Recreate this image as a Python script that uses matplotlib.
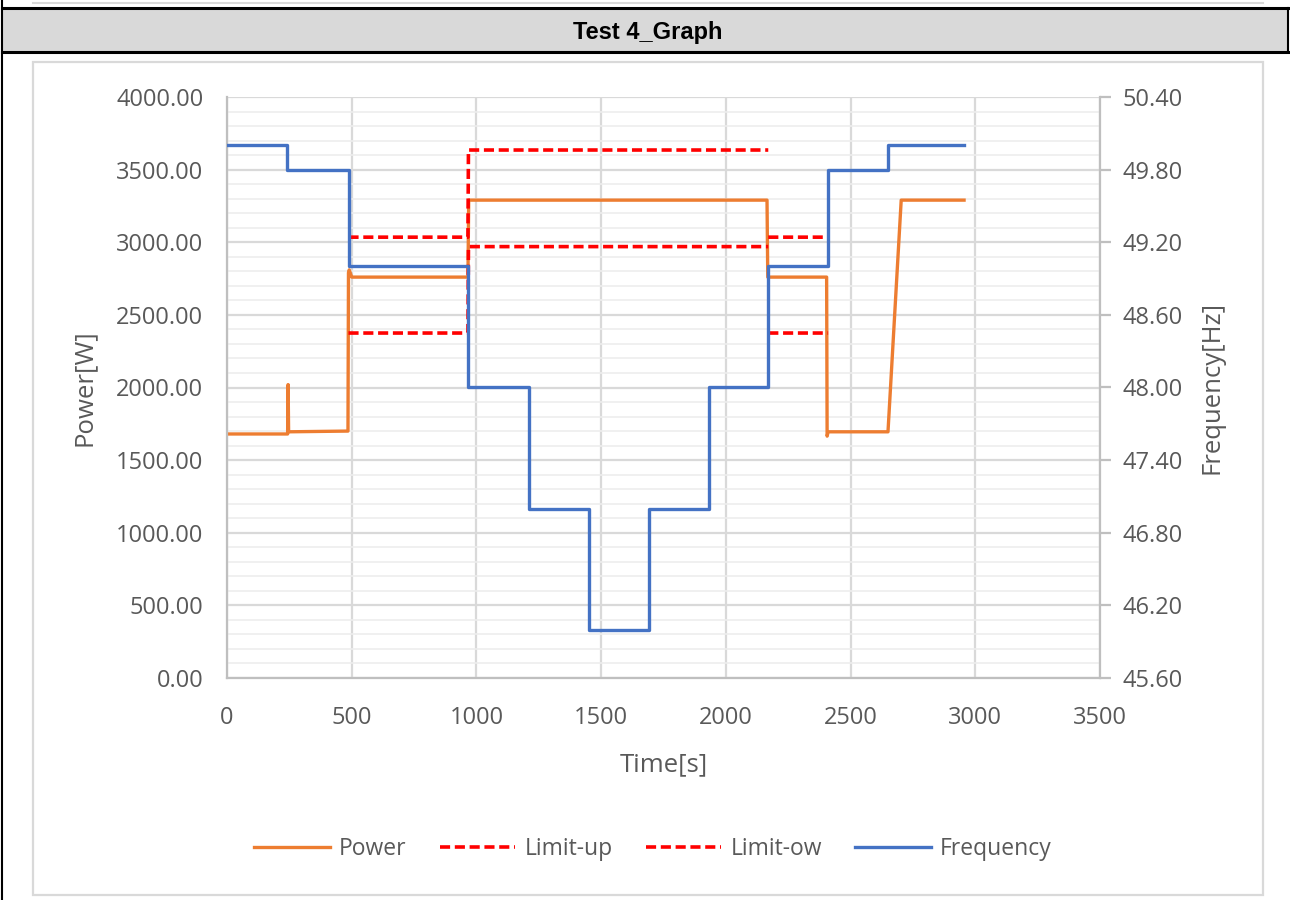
"""
Test 4 graph: power, limits and grid frequency over time.
"""

import numpy as np
import matplotlib.pyplot as plt
from matplotlib.patches import Rectangle
from matplotlib.lines import Line2D
from matplotlib.ticker import MultipleLocator, FormatStrFormatter

# power trace [W]
power_t = [0, 243, 245, 247, 485, 487, 490, 500, 966, 969, 2165, 2168,
           2404, 2406, 2410, 2650, 2703, 2955]
power_w = [1680, 1680, 2020, 1695, 1700, 2790, 2810, 2760, 2760, 3290, 3290, 2760,
           2760, 1665, 1695, 1695, 3290, 3290]

# limits [W] (nan = gap)
limit_t = [487, 966, 968, 2170, np.nan, 2170, 2410]
limit_up = [3035, 3035, 3635, 3635, np.nan, 3035, 3035]
limit_ow = [2375, 2375, 2970, 2970, np.nan, 2375, 2375]

# frequency steps [Hz]
freq_t = [0, 242, 488, 968, 1210, 1450, 1690, 1932, 2170, 2410, 2650, 2955]
freq_hz = [50.0, 49.8, 49.0, 48.0, 47.0, 46.0, 47.0, 48.0, 49.0, 49.8, 50.0, 50.0]

ORANGE = "#ED7D31"
BLUE = "#4472C4"
RED = "#FF0000"
TXT = "#595959"
GRID = "#D9D9D9"
FONT = "Open Sans"

fig = plt.figure(figsize=(12.9, 9.0), dpi=100)

# table frame around the chart
W, H = 1290, 900


def fx(px):
    return px / W


def fy(py):
    return 1 - py / H


fig.patches.append(Rectangle((fx(2), fy(52)), fx(1286), fy(8) - fy(52),
                             transform=fig.transFigure, facecolor="#D9D9D9",
                             edgecolor="none", zorder=0))
for yy in (8, 52):
    fig.add_artist(Line2D([fx(2), fx(1289)], [fy(yy), fy(yy)], color="black", lw=2.2))
fig.add_artist(Line2D([fx(2), fx(2)], [0, 1], color="black", lw=1.5))
fig.add_artist(Line2D([fx(1288), fx(1288)], [fy(8), fy(52)], color="black", lw=1.5))
fig.add_artist(Line2D([fx(33), fx(1263)], [fy(3), fy(3)], color=GRID, lw=1.5))
fig.patches.append(Rectangle((fx(33), fy(895)), fx(1230), fy(62) - fy(895),
                             transform=fig.transFigure, facecolor="none",
                             edgecolor=GRID, lw=1.6))
fig.text(fx(648), fy(32), "Test 4_Graph", ha="center", va="center",
         fontsize=17, fontweight="bold", family="Liberation Sans")

ax = fig.add_axes([fx(227), fy(678), fx(1100) - fx(227), fy(97) - fy(678)])
ax2 = ax.twinx()

ax.set_xlim(0, 3500)
ax.set_ylim(0, 4000)
ax2.set_ylim(45.6, 50.4)

ax.xaxis.set_major_locator(MultipleLocator(500))
ax.yaxis.set_major_locator(MultipleLocator(500))
ax.yaxis.set_minor_locator(MultipleLocator(100))
ax.yaxis.set_major_formatter(FormatStrFormatter("%.2f"))
ax2.yaxis.set_major_locator(MultipleLocator(0.6))
ax2.yaxis.set_major_formatter(FormatStrFormatter("%.2f"))

ax.grid(which="major", axis="both", color=GRID, lw=1.6)
ax.grid(which="minor", axis="y", color="#EDEDED", lw=1.2)
ax.set_axisbelow(True)

for a in (ax, ax2):
    a.spines["top"].set_visible(False)
    for s in ("left", "right", "bottom"):
        a.spines[s].set_color("#BFBFBF")
        a.spines[s].set_linewidth(1.6)
ax.spines["right"].set_visible(False)
ax2.spines["left"].set_visible(False)
ax2.spines["bottom"].set_visible(False)

ax.tick_params(axis="y", which="both", length=0, labelsize=17, labelcolor=TXT, pad=17)
ax.tick_params(axis="x", which="both", length=0, labelsize=17, labelcolor=TXT, pad=20)
ax2.tick_params(axis="y", which="major", length=8, width=1.6, color="#BFBFBF",
                labelsize=17, labelcolor=TXT, pad=8)
for lab in ax.get_xticklabels() + ax.get_yticklabels() + ax2.get_yticklabels():
    lab.set_family(FONT)

ax.set_xlabel("Time[s]", fontsize=18.5, color=TXT, family=FONT, labelpad=16)
ax.set_ylabel("Power[W]", fontsize=18.5, color=TXT, family=FONT, labelpad=14)
ax2.set_ylabel("Frequency[Hz]", fontsize=18.5, color=TXT, family=FONT, labelpad=12)

dash = (0, (2.8, 1.3))
l1, = ax.plot(power_t, power_w, color=ORANGE, lw=2.4, label="Power")
l2, = ax.plot(limit_t, limit_up, color=RED, lw=2.6, ls=dash, label="Limit-up")
l3, = ax.plot(limit_t, limit_ow, color=RED, lw=2.6, ls=dash, label="Limit-ow")
l4, = ax2.step(freq_t, freq_hz, where="post", color=BLUE, lw=2.4, label="Frequency")

fig.legend(handles=[l1, l2, l3, l4], loc="center", bbox_to_anchor=(fx(653), fy(849)),
           ncol=4, frameon=False, handlelength=3.3, handletextpad=0.4,
           columnspacing=1.45, prop={"family": FONT, "size": 16.5}, labelcolor=TXT)

plt.savefig("out.png", dpi=100)
